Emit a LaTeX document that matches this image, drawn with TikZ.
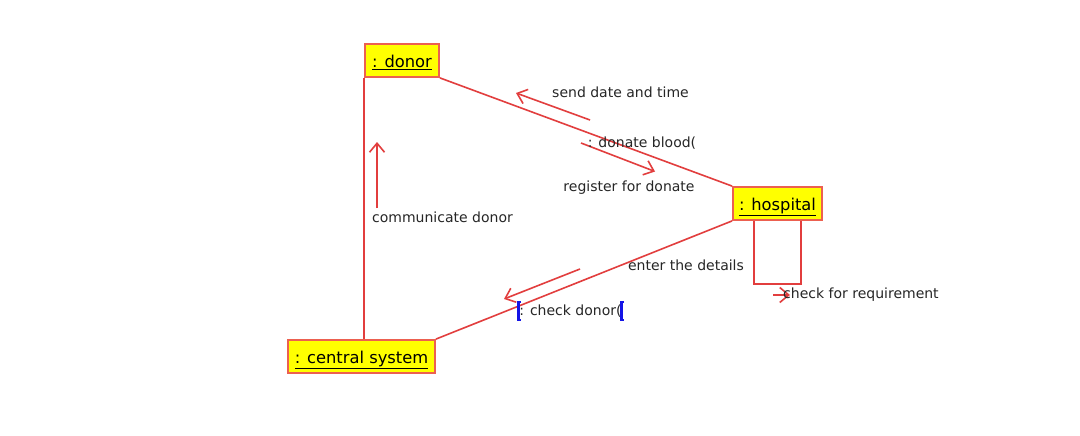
\documentclass[tikz,border=0pt]{standalone}
\usepackage{fontspec}
\setmainfont{DejaVu Sans}
\usetikzlibrary{arrows.meta}
\definecolor{boxfill}{RGB}{255,255,0}
\definecolor{boxline}{RGB}{236,96,80}
\definecolor{linkred}{RGB}{226,62,62}
\definecolor{selblue}{RGB}{20,20,230}
\tikzset{
  objbox/.style={draw=boxline, line width=1.8pt, fill=boxfill, inner sep=0pt, minimum height=33pt, text height=14pt, text depth=0pt, font=\fontsize{16.3}{18}\selectfont},
  link/.style={draw=linkred, line width=1.6pt},
  msgarrow/.style={draw=linkred, line width=1.6pt, -{Straight Barb[length=9pt,width=15pt,line width=1.6pt]}},
  msglabel/.style={font=\fontsize{14}{16}\selectfont, text=black!85, inner sep=0pt},
  selmark/.style={draw=selblue, line width=2.4pt}
}
\begin{document}
\begin{tikzpicture}[x=1pt,y=-1pt]
\useasboundingbox[fill=white] (0,0) rectangle (1080,436);
% objects
\node[objbox, minimum width=74pt] (donor) at (402,60.5) {\underline{: donor}};
\node[objbox, minimum width=89pt] (hospital) at (777.5,203.5) {\underline{: hospital}};
\node[objbox, minimum width=147pt] (central) at (361.5,356.5) {\underline{: central system}};
% links
\draw[link] (donor.south east) -- (hospital.north west);
\draw[link] (central.north east) -- (hospital.south west);
\draw[link] (donor.south west) -- (donor.south west |- central.north);
\coordinate (loopA) at ([xshift=22pt]hospital.south west);
\coordinate (loopB) at ([xshift=-22pt]hospital.south east);
\draw[link] (loopA) -- ++(0,63) -| (loopB);
% message arrows
\coordinate (sendT) at (590,120); \coordinate (sendH) at (516,93);
\draw[msgarrow] (sendT) -- (sendH);
\coordinate (donT) at (581,143); \coordinate (donH) at (655,171.5);
\draw[msgarrow] (donT) -- (donH);
\coordinate (comT) at (377,208); \coordinate (comH) at (377,142);
\draw[msgarrow] (comT) -- (comH);
\coordinate (chkT) at (580,269); \coordinate (chkH) at (504,299);
\draw[msgarrow] (chkT) -- (chkH);
\coordinate (reqT) at (773,295); \coordinate (reqH) at (790,295);
\draw[msgarrow] (reqT) -- (reqH);
% labels
\node[msglabel] (l1) at (620.5,92) {send date and time};
\node[msglabel] (l2) at (642,143) {: donate blood(};
\node[msglabel] (l3) at (629,188) {register for donate};
\node[msglabel] (l4) at (442.5,217) {communicate donor};
\node[msglabel] (l5) at (686,265) {enter the details};
\node[msglabel] (l6) at (570.5,311) {: check donor(};
\node[msglabel, anchor=west] (l7) at (783,295) {check for requirement};
% selection marks
\draw[selmark] (521,302) -- (518.5,302) -- (518.5,320) -- (521,320);
\draw[selmark] (624,302) -- (621.5,302) -- (621.5,320) -- (624,320);
\end{tikzpicture}
\end{document}
